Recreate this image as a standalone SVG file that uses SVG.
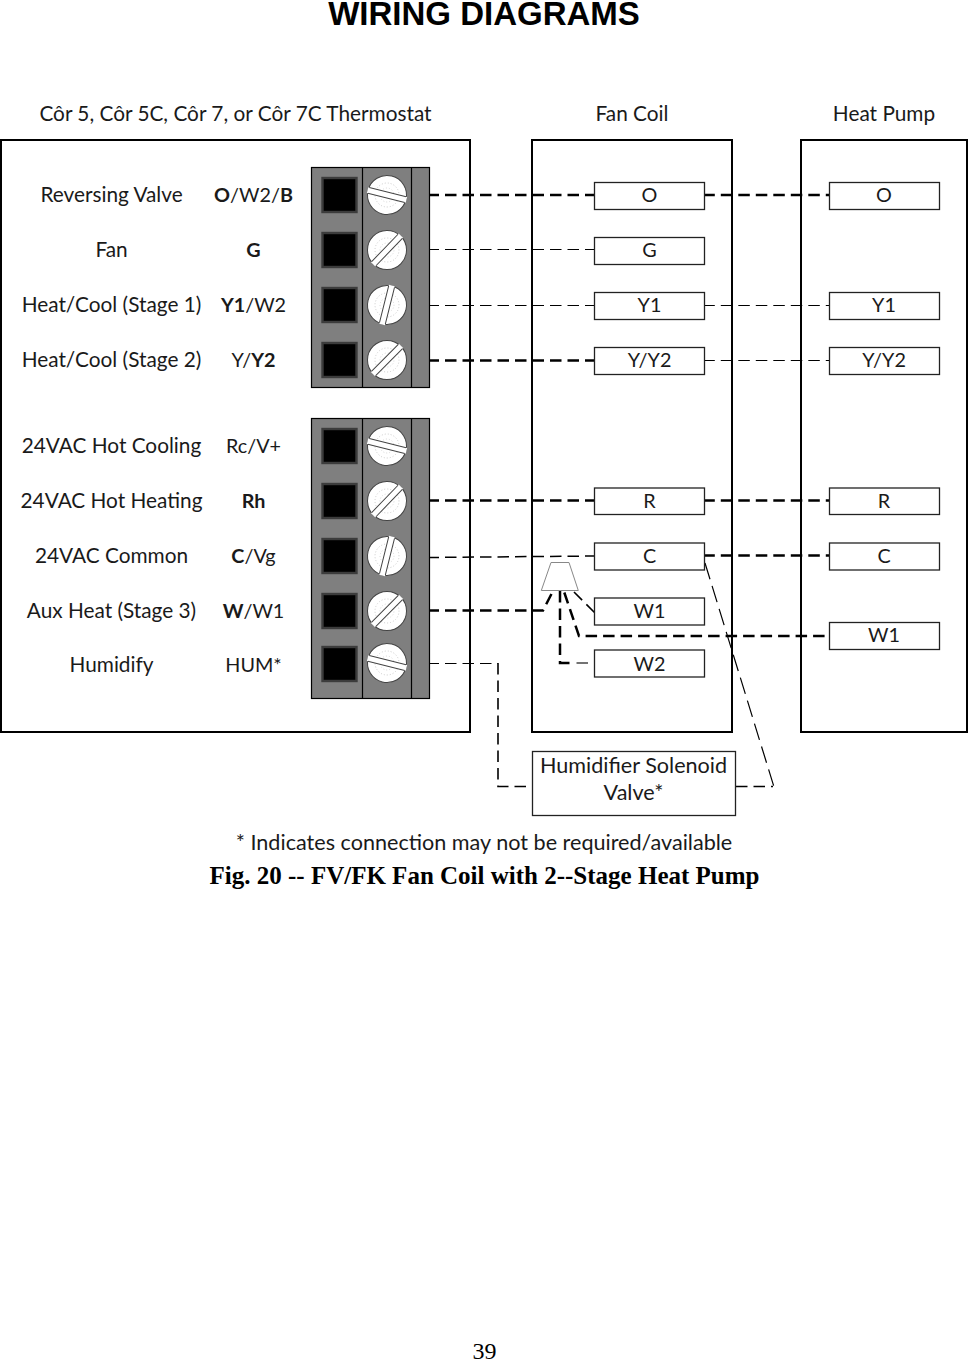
<svg xmlns="http://www.w3.org/2000/svg" width="968" height="1360" viewBox="0 0 968 1360">
<style>
text{font-family:"Lato","Carlito","Liberation Sans",sans-serif;font-size:20.8px;fill:#1a1a1a;text-anchor:middle}
.b{font-weight:700}
text.s{font-size:19.800px}
text.f{font-size:21.6px}
text.h{font-family:"Liberation Sans",Arial,sans-serif;font-size:33px;font-weight:700;fill:#000}
text.c{font-family:"Liberation Serif","Times New Roman",serif;font-size:25px;font-weight:700;fill:#000}
text.p{font-family:"Liberation Serif","Times New Roman",serif;font-size:24px;fill:#000}
.box{fill:#fff;stroke:#000;stroke-width:2}
.t{fill:#fff;stroke:#222;stroke-width:1.3}
.blk{fill:#7f7f7f;stroke:#000;stroke-width:1.2}
.div{stroke:#000;stroke-width:1.2;fill:none}
.w{fill:none;stroke:#000;stroke-dasharray:11.5 6}
.k{stroke-width:2.5}
.n{stroke-width:1.1}
.m{stroke-width:1.6}
.l{stroke-dashoffset:2.5}
.r{stroke-dashoffset:1.7}
</style>
<defs>
<g id="sq"><rect x="-17" y="-17" width="34" height="34" fill="#000" stroke="#3c3c3c" stroke-width="2.4"/></g>
<g id="sw"><circle r="19.5" fill="#fff" stroke="#444" stroke-width="1"/><circle r="12" fill="none" stroke="#bbb" stroke-width=".7" stroke-dasharray="1 2"/><circle r="7" fill="none" stroke="#ccc" stroke-width=".7" stroke-dasharray="1 2"/><rect x="-20" y="-3" width="40" height="6" fill="#fff"/><path d="M-19 -3H19M-19 3H19" stroke="#444" stroke-width="1"/></g>
</defs>
<rect width="968" height="1360" fill="#fff"/>
<text class="h" x="484" y="25">WIRING DIAGRAMS</text>
<g id="titles">
<text x="235.500" y="121">Côr 5, Côr 5C, Côr 7, or Côr 7C Thermostat</text>
<text x="632" y="121">Fan Coil</text>
<text x="884" y="121">Heat Pump</text>
</g>
<g id="thermostat">
<rect class="box" x="1" y="140" width="469" height="592"/>
<text x="111.500" y="202">Reversing Valve</text><text class="s" x="253.500" y="202"><tspan class="b">O</tspan>/W2/<tspan class="b">B</tspan></text>
<text x="111.500" y="257">Fan</text><text class="b s" x="253.500" y="257">G</text>
<text x="111.500" y="312">Heat/Cool (Stage 1)</text><text class="s" x="253.500" y="312"><tspan class="b">Y1</tspan>/W2</text>
<text x="111.500" y="367">Heat/Cool (Stage 2)</text><text class="s" x="253.500" y="367">Y/<tspan class="b">Y2</tspan></text>
<text x="111.500" y="453">24VAC Hot Cooling</text><text class="s" x="253.500" y="453">Rc/V+</text>
<text x="111.500" y="508">24VAC Hot Heating</text><text class="b s" x="253.500" y="508">Rh</text>
<text x="111.500" y="563">24VAC Common</text><text class="s" x="253.500" y="563"><tspan class="b">C</tspan>/Vg</text>
<text x="111.500" y="618">Aux Heat (Stage 3)</text><text class="s" x="253.500" y="618"><tspan class="b">W</tspan>/W1</text>
<text x="111.500" y="672">Humidify</text><text class="s" x="253.500" y="672">HUM*</text>
</g>
<g id="block1">
<rect class="blk" x="311.500" y="167.500" width="118" height="220"/>
<path class="div" d="M362.500 167.500V387.500M411.500 167.500V387.500"/>
<use href="#sq" x="339.500" y="195"/><use href="#sq" x="339.500" y="250"/><use href="#sq" x="339.500" y="305"/><use href="#sq" x="339.500" y="360"/>
<use href="#sw" transform="translate(387 195) rotate(14)"/><use href="#sw" transform="translate(387 250) rotate(-46)"/><use href="#sw" transform="translate(387 305) rotate(-76)"/><use href="#sw" transform="translate(387 360) rotate(-45)"/>
</g>
<g id="block2">
<rect class="blk" x="311.500" y="418.500" width="118" height="280"/>
<path class="div" d="M362.500 418.500V698.500M411.500 418.500V698.500"/>
<use href="#sq" x="339.500" y="446"/><use href="#sq" x="339.500" y="501"/><use href="#sq" x="339.500" y="556"/><use href="#sq" x="339.500" y="611"/><use href="#sq" x="339.500" y="664"/>
<use href="#sw" transform="translate(387 446) rotate(14)"/><use href="#sw" transform="translate(387 501) rotate(-46)"/><use href="#sw" transform="translate(387 556) rotate(-76)"/><use href="#sw" transform="translate(387 611) rotate(-45)"/><use href="#sw" transform="translate(387 663) rotate(14)"/>
</g>
<g id="fancoil"><rect class="box" x="532" y="140" width="200" height="592"/></g>
<g id="heatpump"><rect class="box" x="801" y="140" width="166" height="592"/></g>
<g id="connectors">
<path class="w k l" d="M430 195H594M430 360.500H594M430 500.500H594M430 610.500H543L553 591"/>
<path class="w n l" d="M430 249.500H594M430 305.500H594M430 663.500H498"/>
<path class="w k r" d="M705 195H829M705 500.500H829M705 555.500H829"/>
<path class="w n r" d="M705 305.500H829M705 360.500H829"/>
<path class="w n l" style="stroke-width:1.500" d="M430 557.500L594 556"/>
<path class="w m" d="M498 663V786.500H532"/>
<path class="w m" d="M736 786.500H773"/>
<path class="w n" style="stroke-dasharray:17 7;stroke-width:1.200" d="M705 563L774 787"/>
<path class="w k" d="M560 591V663H572"/>
<path class="w n" d="M576.500 663H588"/>
<path class="w m" d="M574 592L594.500 612.500"/>
<path class="w k" d="M564.300 592.500L579 636H829"/>
</g>
<g id="valve"><path d="M551 562.500H569L578.300 590.500H541.300Z" fill="#fff" stroke="#888" stroke-width="1"/></g>
<g id="fc-terminals">
<rect class="t" x="594.500" y="182.500" width="110" height="27"/><text class="s" x="649.500" y="202">O</text>
<rect class="t" x="594.500" y="237.500" width="110" height="27"/><text class="s" x="649.500" y="257">G</text>
<rect class="t" x="594.500" y="292.500" width="110" height="27"/><text class="s" x="649.500" y="312">Y1</text>
<rect class="t" x="594.500" y="347.500" width="110" height="27"/><text class="s" x="649.500" y="367">Y/Y2</text>
<rect class="t" x="594.500" y="488" width="110" height="26.500"/><text class="s" x="649.500" y="508">R</text>
<rect class="t" x="594.500" y="543" width="110" height="27"/><text class="s" x="649.500" y="563">C</text>
<rect class="t" x="594.500" y="598" width="110" height="27"/><text class="s" x="649.500" y="618">W1</text>
<rect class="t" x="594.500" y="650" width="110" height="27"/><text class="s" x="649.500" y="671">W2</text>
</g>
<g id="hp-terminals">
<rect class="t" x="829.500" y="182.500" width="110" height="27"/><text class="s" x="884" y="202">O</text>
<rect class="t" x="829.500" y="292.500" width="110" height="27"/><text class="s" x="884" y="312">Y1</text>
<rect class="t" x="829.500" y="347.500" width="110" height="27"/><text class="s" x="884" y="367">Y/Y2</text>
<rect class="t" x="829.500" y="488" width="110" height="26.500"/><text class="s" x="884" y="508">R</text>
<rect class="t" x="829.500" y="543" width="110" height="27"/><text class="s" x="884" y="563">C</text>
<rect class="t" x="829.500" y="622.500" width="110" height="27"/><text class="s" x="884" y="642">W1</text>
</g>
<g id="humidifier">
<rect class="t" x="532.500" y="751.500" width="203" height="64"/>
<text class="f" x="633.500" y="773">Humidifier Solenoid</text><text class="f" x="633.500" y="800">Valve*</text>
</g>
<text class="f" x="484" y="850">* Indicates connection may not be required/available</text>
<text class="c" x="484.500" y="884">Fig. 20 -- FV/FK Fan Coil with 2--Stage Heat Pump</text>
<text class="p" x="484.500" y="1359">39</text>
</svg>
